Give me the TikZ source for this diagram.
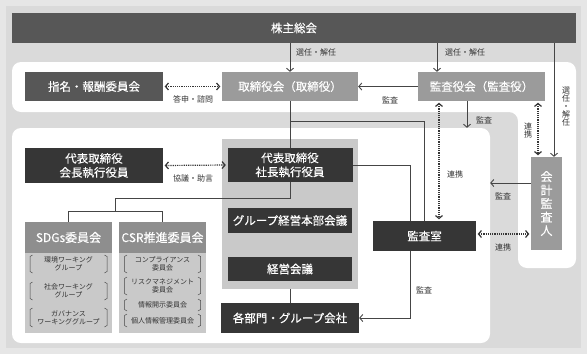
\documentclass[tikz,border=0pt]{standalone}
\usepackage{fontspec}
\setmainfont{Noto Sans CJK JP}[BoldFont={Noto Sans CJK JP}, BoldFeatures={FakeBold=0.35}]
\usetikzlibrary{arrows.meta,calc}
\definecolor{cBg}{HTML}{DADADA}
\definecolor{cEdge}{HTML}{E6E6E6}
\definecolor{cDark}{HTML}{363636}
\definecolor{cDark2}{HTML}{575757}
\definecolor{cMid}{HTML}{9B9B9B}
\definecolor{cHead}{HTML}{8E8E8E}
\definecolor{cLight}{HTML}{C9C9C9}
\definecolor{cLine}{HTML}{454545}
\definecolor{cText}{HTML}{333333}
\begin{document}
\begin{tikzpicture}[x=1pt,y=-1pt,
  wh/.style 2 args={minimum width=#1pt, minimum height=#2pt},
  box/.style={draw=none, inner sep=0pt, align=center, text=white, font=\fontsize{11.5}{14}\selectfont\bfseries},
  dk/.style={box, fill=cDark},
  dk2/.style={box, fill=cDark2},
  md/.style={box, fill=cMid},
  hd/.style={box, fill=cHead, font=\fontsize{12}{14}\selectfont\bfseries},
  lt/.style={draw=none, fill=cLight, inner sep=0pt},
  panel/.style={draw=none, fill=white, rounded corners=9pt, inner sep=0pt},
  ln/.style={draw=cLine, line width=0.9pt},
  arr/.style={ln, -{Straight Barb[length=3pt,width=7pt]}},
  dotarr/.style={draw=cDark, line width=1.2pt, densely dotted, shorten <=1.5pt, shorten >=1.5pt,
     {Straight Barb[length=3pt,width=7pt]}-{Straight Barb[length=3pt,width=7pt]}},
  lab/.style={font=\fontsize{8}{8.5}\selectfont, text=cText, inner sep=0pt, align=center},
  item/.style={font=\fontsize{7}{8}\selectfont, text=cText, inner sep=0pt, align=center},
  brk/.style={draw=cLine, line width=0.5pt},
]
\useasboundingbox (0,0) rectangle (587,354);
\fill[cEdge] (0,0) rectangle (587,354);
\fill[cBg] (6,6) rectangle (581,348);

% white panels
\fill[white, rounded corners=9pt] (12,62) -- (576,62) -- (576,268) -- (518,268) -- (518,112) -- (12,112) -- cycle;
\node[panel, wh={478}{215}] (p2) at (251,235.5) {};
\node[lt, wh={136}{150}] (exec) at (290,214) {};

% boxes
\node[dk2, wh={564}{30}] (kabu) at (294,28) {株主総会};
\node[dk2, wh={138}{29}] (shimei) at (94,86.5) {指名・報酬委員会};
\node[md, wh={136}{29}] (tori) at (290,86.5) {取締役会（取締役）};
\node[md, wh={127}{29}] (kansayaku) at (481.5,86.5) {監査役会（監査役）};
\node[dk, wh={138}{35}] (kaicho) at (94,165.5) {代表取締役\\会長執行役員};
\node[dk, wh={125}{34}] (shacho) at (290,165) {代表取締役\\社長執行役員};
\node[dk, wh={124}{25}] (group) at (290,220.5) {グループ経営本部会議};
\node[dk, wh={124}{24}] (keiei) at (290,269) {経営会議};
\node[dk, wh={138}{30}] (kakubu) at (290,318) {各部門・グループ会社};
\node[dk, wh={103}{30}] (kansashitsu) at (424.5,236) {監査室};
\node[md, wh={31}{93}, font=\fontsize{12}{13.5}\selectfont\bfseries] (kaikei) at (546.5,203.5) {会\\計\\監\\査\\人};

% committees
\node[hd, wh={87}{31}] (sdgsh) at (68.5,237.5) {SDGs委員会};
\node[lt, wh={87}{80}] (sdgsb) at (68.5,293) {};
\node[hd, wh={87}{31}] (csrh) at (162.5,237.5) {CSR推進委員会};
\node[lt, wh={87}{80}] (csrb) at (162.5,293) {};

% items
\node[item] (s1) at (68.5,264) {環境ワーキング\\グループ};
\node[item] (s2) at (68.5,291) {社会ワーキング\\グループ};
\node[item] (s3) at (68.5,317.5) {ガバナンス\\ワーキンググループ};
\node[item] (c1) at (162.5,264) {コンプライアンス\\委員会};
\node[item] (c2) at (162.5,286) {リスクマネジメント\\委員会};
\node[item] (c3) at (162.5,305) {情報開示委員会};
\node[item] (c4) at (162.5,320.5) {個人情報管理委員会};

% brackets
\foreach \xl/\xr/\yc/\hh in {30/107/264/9, 30/107/291/9, 30/107/317.5/9.5,
   124.5/200.5/264/9, 124.5/200.5/286/9, 124.5/200.5/305/6, 124.5/200.5/320.5/6.5}{
  \draw[brk] (\xl+2.5,\yc-\hh) -- (\xl,\yc-\hh+1.5) -- (\xl,\yc+\hh-1.5) -- (\xl+2.5,\yc+\hh);
  \draw[brk] (\xr-2.5,\yc-\hh) -- (\xr,\yc-\hh+1.5) -- (\xr,\yc+\hh-1.5) -- (\xr-2.5,\yc+\hh);
}

% helper coordinates
\coordinate (k2) at (437,0);
\coordinate (k3) at (554,0);
\coordinate (k4) at (467,0);
\coordinate (k5) at (0,183);
\coordinate (k6) at (439,0);
\coordinate (k7) at (0,234);
\coordinate (k9) at (538,0);
\coordinate (kA) at (0,121);
\coordinate (kB) at (410,0);
\coordinate (t1) at (115,198);
\coordinate (t2) at (115,211);

% connectors
\draw[arr] (tori.north |- kabu.south) -- (tori.north);
\draw[arr] (kabu.south -| k2) -- (kansayaku.north -| k2);
\draw[arr] (kabu.south -| k3) -- (kaikei.north -| k3);
\draw[arr] (kansayaku.west) -- (tori.east);
\draw[dotarr] (shimei.east) -- (tori.west);
\draw[arr] (kansayaku.south -| k4) -- (p2.north -| k4);
\draw[arr] (kaikei.west |- k5) -- (p2.east |- k5);
\draw[dotarr] (kansayaku.south -| k6) -- (kansashitsu.north -| k6);
\draw[dotarr] (kansayaku.south -| k9) -- (kaikei.north -| k9);
\draw[dotarr] (kansashitsu.east |- k7) -- (kaikei.west |- k7);
\draw[dotarr] (kaicho.east) -- (shacho.west);

\draw[ln] (tori.south) -- (shacho.north);
\draw[ln] (tori.south |- kA) -| (kansashitsu.north);
\draw[ln] (shacho.east) -| (kB |- kansashitsu.north);
\draw[arr] (kansashitsu.south -| kB) |- (kakubu.east);
\draw[ln] (shacho.south) |- (t1) -- (t2);
\draw[ln] (sdgsh.north) -- (sdgsh.north |- t2) -| (csrh.north);
\draw[ln] (exec.south) -- (kakubu.north);

% labels
\node[lab] (l1) at (316,52) {選任・解任};
\node[lab] (l2) at (465,52) {選任・解任};
\node[lab, font=\fontsize{8}{8}\selectfont] (l3) at (566,107) {選\\任\\・\\解\\任};
\node[lab] (l4) at (193,99.5) {答申・諮問};
\node[lab] (l5) at (390,100) {監査};
\node[lab] (l6) at (484,120) {監査};
\node[lab, font=\fontsize{8}{8}\selectfont] (l7) at (528,130) {連\\携};
\node[lab] (l8) at (455,174) {連携};
\node[lab] (l9) at (503,196) {監査};
\node[lab] (l10) at (503,247) {連携};
\node[lab] (l11) at (424,290) {監査};
\node[lab] (l12) at (193,178) {協議・助言};
\end{tikzpicture}
\end{document}
